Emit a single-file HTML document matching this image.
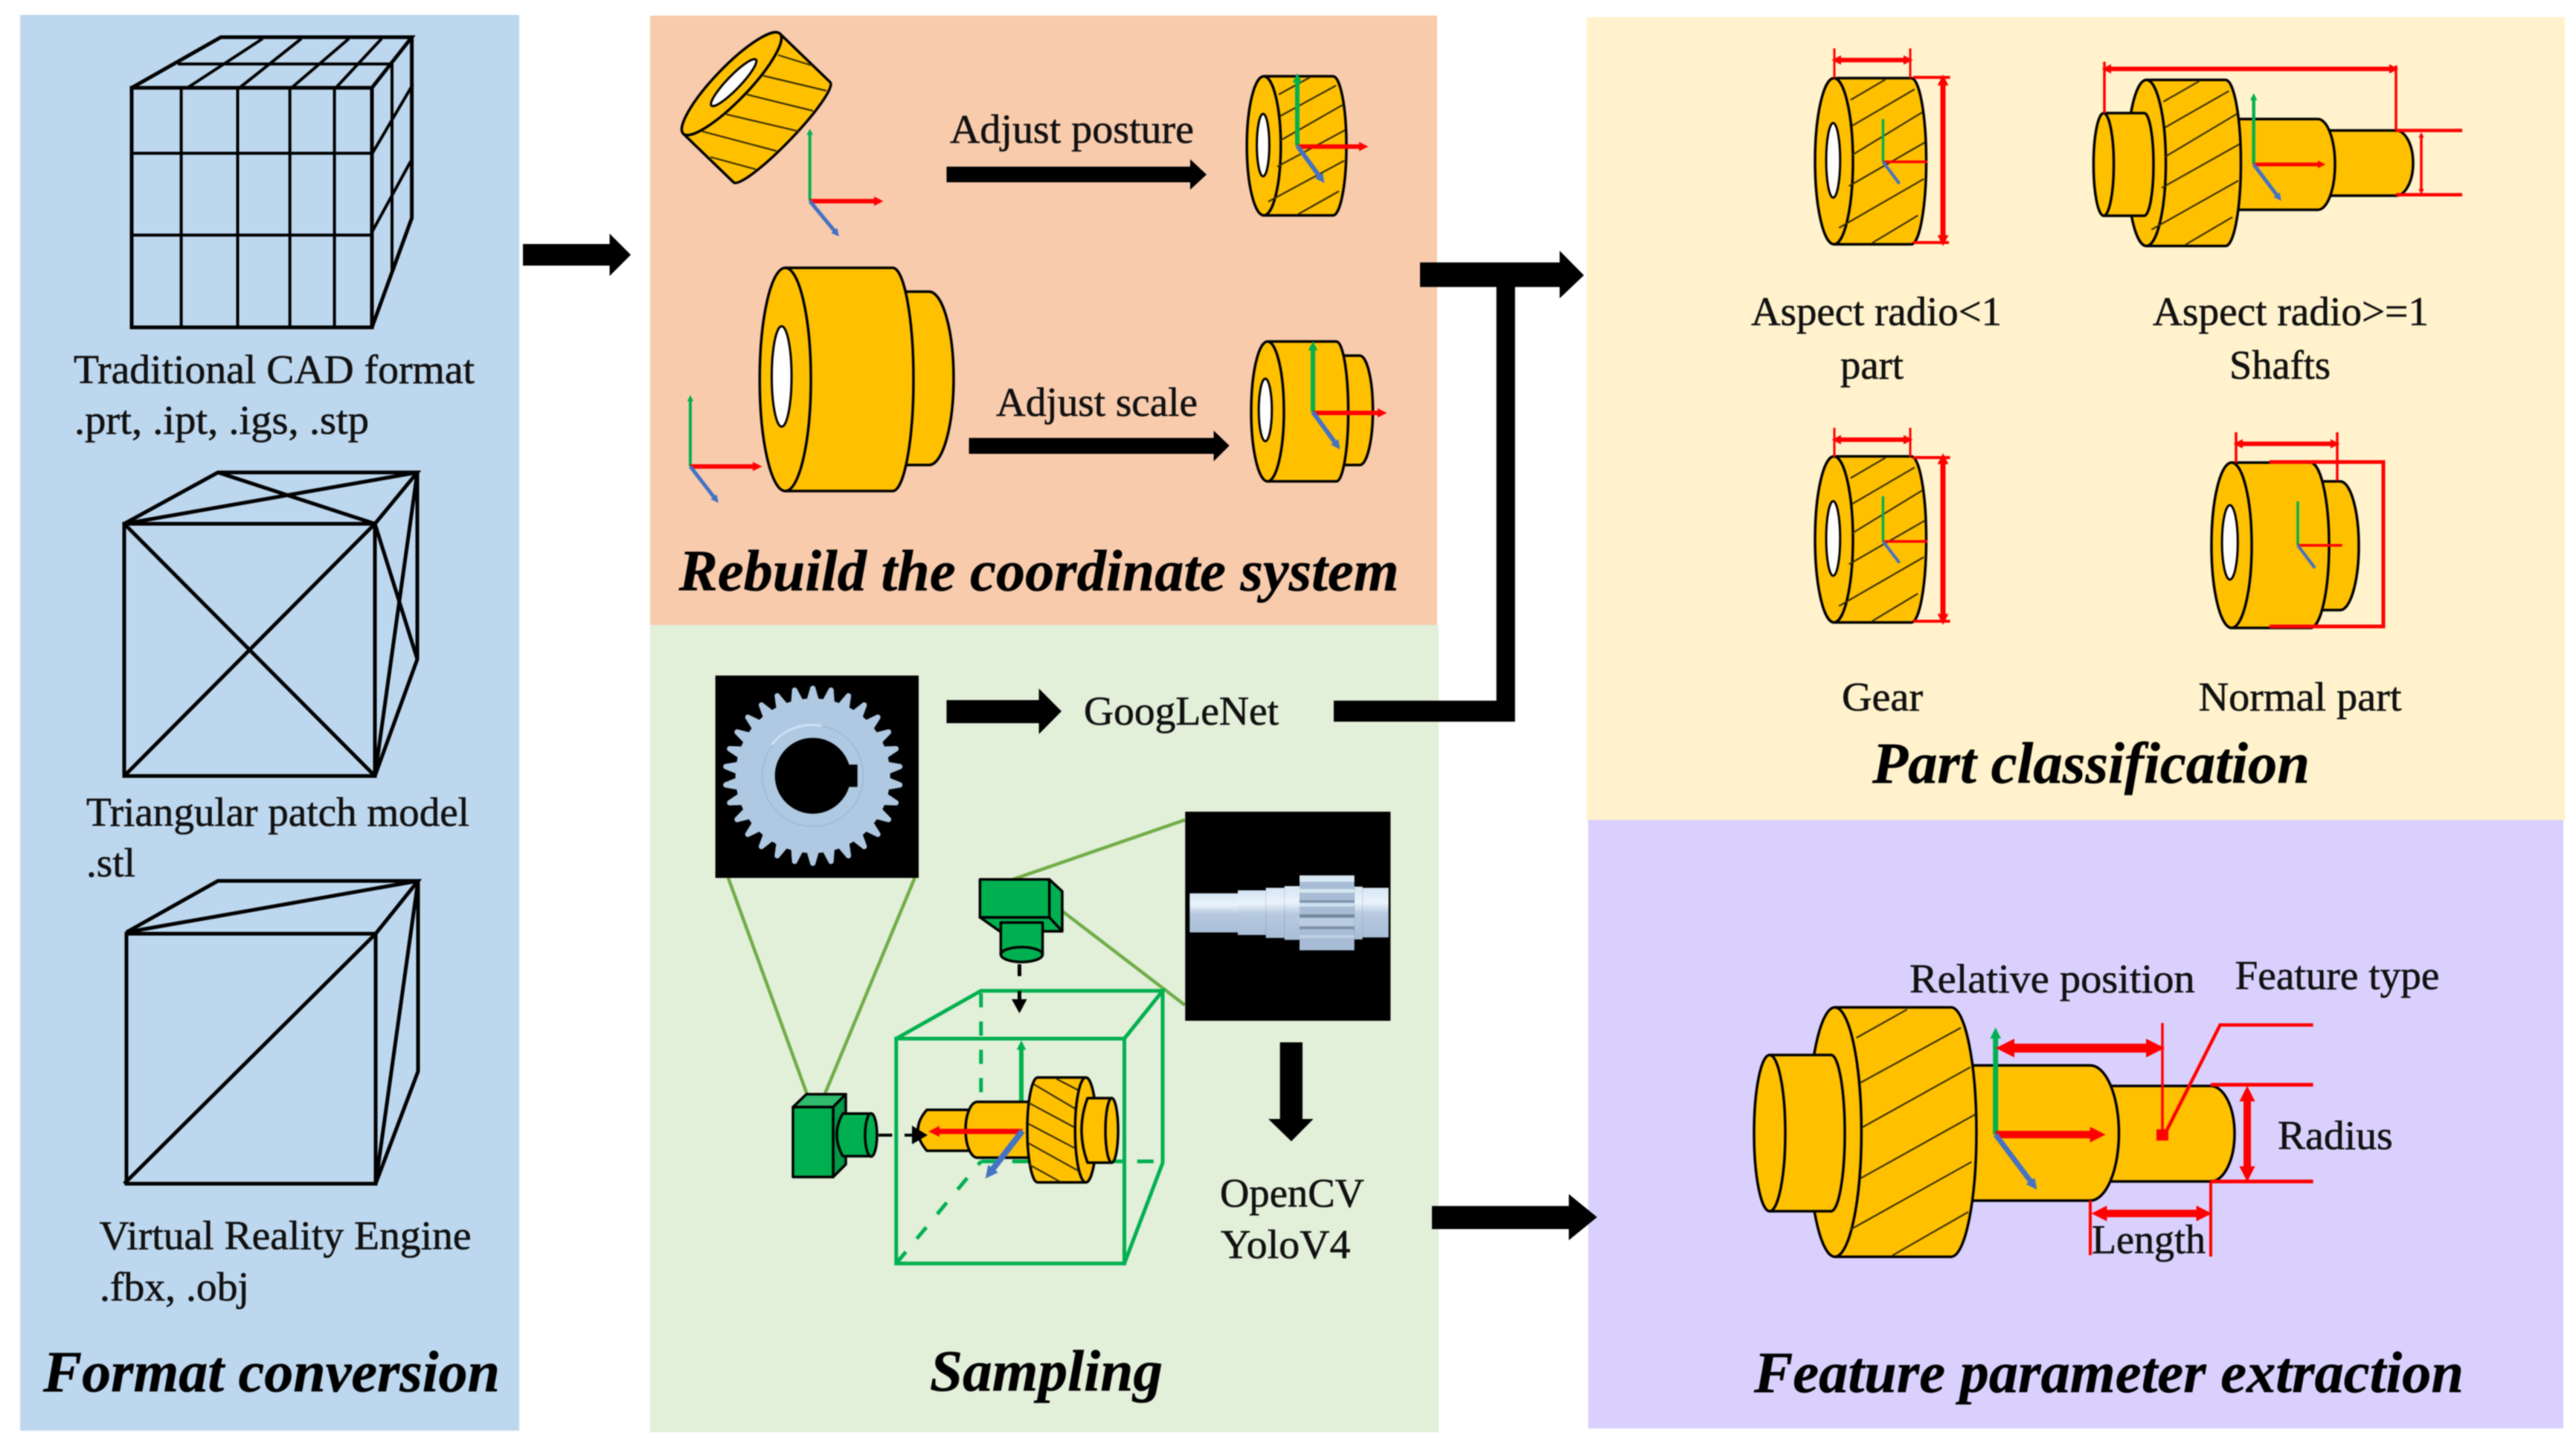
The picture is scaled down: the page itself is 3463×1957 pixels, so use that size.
<!DOCTYPE html>
<html><head><meta charset="utf-8"><title>Pipeline diagram</title>
<style>
html,body{margin:0;padding:0;background:#fff;width:3463px;height:1957px;overflow:hidden}
svg{display:block;filter:blur(.8px)}
text{font-family:"Liberation Serif",serif;font-size:55px;fill:#111;stroke:#111;stroke-width:.6}
text.t{font-weight:bold;font-style:italic;font-size:78px;fill:#000;stroke:#000;stroke-width:.5}
.o{fill:#FFC000;stroke:#000;stroke-width:3.5;vector-effect:non-scaling-stroke;stroke-linejoin:round}
.n{fill:none;stroke:#000;stroke-width:3.5;vector-effect:non-scaling-stroke}
.h{fill:none;stroke:#3a3000;stroke-width:2.2;vector-effect:non-scaling-stroke}
.w{fill:#fff;stroke:#000;stroke-width:3;vector-effect:non-scaling-stroke}
.c{fill:none;stroke:#000;stroke-width:5;stroke-linejoin:miter}
.g{fill:none;stroke:#00B050;stroke-width:5}
.l{stroke:#70AD47;stroke-width:4.5;fill:none}
.cam{fill:#00B050;stroke:#000;stroke-width:3.5;stroke-linejoin:round}
.R{stroke:#f00;fill:none}
</style></head>
<body>
<svg xmlns="http://www.w3.org/2000/svg" width="3463" height="1957" viewBox="0 0 3463 1957">
<defs>
<marker id="mr" markerUnits="strokeWidth" viewBox="0 0 3 3" markerWidth="2.1" markerHeight="2.1" refX="1.2" refY="1.5" orient="auto-start-reverse"><path d="M0,0L3,1.5L0,3Z" fill="#f00"/></marker>
<marker id="mg" markerUnits="strokeWidth" viewBox="0 0 3 3" markerWidth="2.1" markerHeight="2.1" refX="1.2" refY="1.5" orient="auto-start-reverse"><path d="M0,0L3,1.5L0,3Z" fill="#00B050"/></marker>
<marker id="mb" markerUnits="strokeWidth" viewBox="0 0 3 3" markerWidth="2.1" markerHeight="2.1" refX="1.2" refY="1.5" orient="auto-start-reverse"><path d="M0,0L3,1.5L0,3Z" fill="#4472C4"/></marker>
<g id="gb">
<path class="o" d="M0,-93.5L93,-93.5A18,93.5 0 0 1 93,93.5L0,93.5A22.8,93.5 0 0 1 0,-93.5Z"/>
<path class="n" d="M0,-93.5A22.8,93.5 0 0 1 0,93.5"/>
<path class="h" d="M20,-69L62,-92M22,-40L97,-81M22,-7L106,-55M18,28L109,-21M6,75L108,20M46,92L101,61"/>
</g>
<g id="gh"><use href="#gb"/><ellipse class="w" cx="-1" cy="-1" rx="8.4" ry="42"/></g>
<path id="tooth" d="M-8.5,-101L-3.2,-119.5Q0,-123 3.2,-119.5L8.5,-101Z" fill="#AFC9E2"/>
<linearGradient id="sh" x1="0" y1="0" x2="0" y2="1"><stop offset="0" stop-color="#D5E5F3"/><stop offset=".3" stop-color="#EAF3FB"/><stop offset=".52" stop-color="#B6C9DF"/><stop offset="1" stop-color="#A9BED7"/></linearGradient>
</defs>

<rect width="3463" height="1957" fill="#fff"/>
<!-- Panels -->
<rect x="27" y="20" width="671" height="1903" fill="#BDD7EE"/>
<rect x="874" y="21" width="1058" height="819" fill="#F8CBAD"/>
<rect x="874" y="840" width="1060" height="1085" fill="#E2EFD9"/>
<rect x="2133" y="23" width="1315" height="1080" fill="#FFF2CC"/>
<rect x="2135" y="1102" width="1311" height="818" fill="#DAD0FD"/>

<!-- Cube 1 -->
<g class="c">
<path d="M177,118H500V440H177Z"/>
<path d="M177,118L297,50H553.6L500,118M553.6,50V293L500,440"/>
<path d="M243.6,118V440M319.5,118V440M389.7,118V440M449.6,118V440" stroke-width="4"/>
<path d="M177,206H500M177,316H500" stroke-width="4"/>
<path d="M239,86H526M252,118L353,52M322,118L405,52M392,118L469,52M451.5,118L513,52" stroke-width="4"/>
<path d="M527,86V367M500,207L555,113.5M500,312L552,217" stroke-width="4"/>
</g>
<!-- Cube 2 -->
<g class="c">
<path d="M167,704H504V1043H167Z"/>
<path d="M167,704L293,635H561L504,704M561,635V886L504,1043"/>
<path d="M167,704L504,1043M504,704L167,1043M167,704L561,635M293,635L504,704M504,704L561,886M504,1043L561,635"/>
</g>
<!-- Cube 3 -->
<g class="c">
<path d="M170,1255H505V1591H170Z"/>
<path d="M170,1253L293,1184H562L505,1255M562,1184V1440L505,1591"/>
<path d="M170,1253L562,1184M505,1255L167,1591M505,1591L562,1184"/>
</g>
<text x="99" y="515" textLength="539" lengthAdjust="spacingAndGlyphs">Traditional CAD format</text>
<text x="100" y="583" textLength="396" lengthAdjust="spacingAndGlyphs">.prt, .ipt, .igs, .stp</text>
<text x="116" y="1110" textLength="515" lengthAdjust="spacingAndGlyphs">Triangular patch model</text>
<text x="116" y="1178" textLength="66" lengthAdjust="spacingAndGlyphs">.stl</text>
<text x="133.5" y="1679" textLength="500" lengthAdjust="spacingAndGlyphs">Virtual Reality Engine</text>
<text x="134" y="1748" textLength="201" lengthAdjust="spacingAndGlyphs">.fbx, .obj</text>
<text class="t" x="58" y="1870" textLength="614" lengthAdjust="spacingAndGlyphs">Format conversion</text>

<!-- Big arrows -->
<g fill="#000">
<polygon points="703,328 819.5,328 819.5,314 848,342.5 819.5,371 819.5,357 703,357"/>
<polygon points="1272.5,224 1600,224 1600,214 1622,234.6 1600,255 1600,245 1272.5,245"/>
<polygon points="1302.6,588.6 1631.6,588.6 1631.6,578.7 1652.7,599 1631.6,620 1631.6,610 1302.6,610"/>
<polygon points="1272.5,941 1396.6,941 1396.6,925.5 1427,956 1396.6,986.7 1396.6,972 1272.5,972"/>
<polygon points="1909,352.7 2096.7,352.7 2096.7,337 2129.3,370 2096.7,401 2096.7,385.7 2036.7,385.7 2036.7,970 1793,970 1793,941.7 2011.7,941.7 2011.7,385.7 1909,385.7"/>
<polygon points="1925,1621 2109,1621 2109,1605 2147,1636 2109,1667 2109,1652 1925,1652"/>
<polygon points="1720.7,1401 1751,1401 1751,1504 1765.6,1504 1736,1534 1705,1504 1720.7,1504"/>
</g>

<!-- Rebuild panel -->
<g transform="translate(983.5,112.5) rotate(44)">
<path class="o" d="M0,-93.5L94,-93.5A15,93.5 0 0 1 94,93.5L0,93.5A22.8,93.5 0 0 1 0,-93.5Z"/>
<path class="n" d="M0,-93.5A22.8,93.5 0 0 1 0,93.5"/>
<ellipse class="w" cx="1" cy="-3" rx="9" ry="43"/>
</g>
<path class="h" d="M1046,74L1091.5,88M1025,101.5L1111,122M1004,127L1093,149M976,153.6L1074,176.6M944,176.6L1044,203M955,211L1016,227.6"/>
<path d="M1088.7,270V178" stroke="#00B050" stroke-width="4" marker-end="url(#mg)"/>
<path d="M1088.7,270.4H1180" stroke="#f00" stroke-width="6" marker-end="url(#mr)"/>
<path d="M1088.7,270.4L1124,313" stroke="#4472C4" stroke-width="5" marker-end="url(#mb)"/>
<text x="1277" y="192" textLength="328" lengthAdjust="spacingAndGlyphs">Adjust posture</text>
<use href="#gh" transform="translate(1699,196)"/>
<path d="M1744,196V106" stroke="#00B050" stroke-width="6" marker-end="url(#mg)"/>
<path d="M1744,197H1832" stroke="#f00" stroke-width="6" marker-end="url(#mr)"/>
<path d="M1744,196L1776,240" stroke="#4472C4" stroke-width="6" marker-end="url(#mb)"/>

<!-- big part -->
<path class="o" d="M1200,392H1249A33,116.5 0 0 1 1249,625H1200Z"/>
<path class="o" d="M1055.7,360H1200A28,150 0 0 1 1200,660H1055.7A34.4,150 0 0 1 1055.7,360Z"/>
<path class="n" d="M1055.7,360A34.4,150 0 0 1 1055.7,660"/>
<ellipse class="w" cx="1050.8" cy="506" rx="13.3" ry="67.5"/>
<path d="M928,627V536" stroke="#00B050" stroke-width="4" marker-end="url(#mg)"/>
<path d="M928,627H1017" stroke="#f00" stroke-width="6" marker-end="url(#mr)"/>
<path d="M928,627L962,671" stroke="#4472C4" stroke-width="5" marker-end="url(#mb)"/>
<text x="1339" y="559" textLength="271" lengthAdjust="spacingAndGlyphs">Adjust scale</text>
<!-- small part -->
<path class="o" d="M1790,478H1828A17.6,73.5 0 0 1 1828,625H1790Z"/>
<path class="o" d="M1704,459H1796.5A16,94 0 0 1 1796.5,647H1704A22,94 0 0 1 1704,459Z"/>
<path class="n" d="M1704,459A22,94 0 0 1 1704,647"/>
<ellipse class="w" cx="1701" cy="551" rx="8.8" ry="42"/>
<path d="M1765,554V466" stroke="#00B050" stroke-width="6" marker-end="url(#mg)"/>
<path d="M1765,555H1857" stroke="#f00" stroke-width="6" marker-end="url(#mr)"/>
<path d="M1765,554L1797,598" stroke="#4472C4" stroke-width="6" marker-end="url(#mb)"/>
<text class="t" x="912.6" y="793.5" textLength="968" lengthAdjust="spacingAndGlyphs">Rebuild the coordinate system</text>

<!-- Sampling panel -->
<path class="l" d="M979,1180L1090,1484.6M1229.7,1180L1109,1470M1593,1102L1361.6,1182M1593,1351L1428,1224.6"/>
<rect x="961.7" y="908" width="273.3" height="272" fill="#000"/>
<g transform="translate(1092.7,1042.7)">
<circle r="104" fill="#AFC9E2"/>
<use href="#tooth"/><use href="#tooth" transform="rotate(12)"/><use href="#tooth" transform="rotate(24)"/><use href="#tooth" transform="rotate(36)"/><use href="#tooth" transform="rotate(48)"/><use href="#tooth" transform="rotate(60)"/><use href="#tooth" transform="rotate(72)"/><use href="#tooth" transform="rotate(84)"/><use href="#tooth" transform="rotate(96)"/><use href="#tooth" transform="rotate(108)"/><use href="#tooth" transform="rotate(120)"/><use href="#tooth" transform="rotate(132)"/><use href="#tooth" transform="rotate(144)"/><use href="#tooth" transform="rotate(156)"/><use href="#tooth" transform="rotate(168)"/><use href="#tooth" transform="rotate(180)"/><use href="#tooth" transform="rotate(192)"/><use href="#tooth" transform="rotate(204)"/><use href="#tooth" transform="rotate(216)"/><use href="#tooth" transform="rotate(228)"/><use href="#tooth" transform="rotate(240)"/><use href="#tooth" transform="rotate(252)"/><use href="#tooth" transform="rotate(264)"/><use href="#tooth" transform="rotate(276)"/><use href="#tooth" transform="rotate(288)"/><use href="#tooth" transform="rotate(300)"/><use href="#tooth" transform="rotate(312)"/><use href="#tooth" transform="rotate(324)"/><use href="#tooth" transform="rotate(336)"/><use href="#tooth" transform="rotate(348)"/>
<circle r="68" fill="none" stroke="#9FB8D2" stroke-width="1.5"/>
<path d="M-55,-42A68,68 0 0 1 12,-67" fill="none" stroke="#CDE2F5" stroke-width="3"/>
<circle r="51" fill="#000"/>
<rect x="40" y="-15" width="20" height="30" fill="#000"/>
</g>
<text x="1457" y="974" textLength="262" lengthAdjust="spacingAndGlyphs">GoogLeNet</text>

<rect x="1593.3" y="1091" width="276" height="281" fill="#000"/>
<rect x="1599.3" y="1200.7" width="64.7" height="52.6" fill="url(#sh)"/>
<rect x="1664" y="1196.7" width="37.7" height="60" fill="url(#sh)"/>
<rect x="1701.7" y="1193.3" width="25" height="67.4" fill="url(#sh)"/>
<rect x="1726.7" y="1191" width="20.3" height="72.3" fill="url(#sh)"/>
<rect x="1820.7" y="1191.7" width="11" height="71" fill="url(#sh)"/>
<rect x="1831.7" y="1193.3" width="35" height="66.7" fill="url(#sh)"/>
<rect x="1747" y="1176.7" width="73.7" height="100.6" fill="#A8BDD5"/>
<g>
<rect x="1747" y="1176.7" width="73.7" height="8.5" fill="#D8E8F3"/>
<rect x="1747" y="1195" width="73.7" height="5" fill="#D6E6F0"/>
<rect x="1747" y="1210" width="73.7" height="3.5" fill="#7F95AE"/>
<rect x="1747" y="1213.5" width="73.7" height="5" fill="#CFE0EE"/>
<rect x="1747" y="1229" width="73.7" height="4.5" fill="#74889E"/>
<rect x="1747" y="1233.5" width="73.7" height="11.5" fill="#B9CCE0"/>
<rect x="1747" y="1245" width="73.7" height="4" fill="#7F92A8"/>
<rect x="1747" y="1256.7" width="73.7" height="4" fill="#BED0E2"/>
</g>

<!-- green cube -->
<g class="g">
<path d="M1318.8,1335V1470" stroke-dasharray="19 19"/>
<path d="M1205,1698L1318.8,1561" stroke-dasharray="20 23"/>
<path d="M1318.8,1561H1563" stroke-dasharray="22 20"/>
<path d="M1204.8,1396H1511.5V1698.3H1204.8Z"/>
<path d="M1204.8,1396L1318.8,1331.7H1563L1511.5,1396M1563,1331.7V1563L1511.5,1698.3"/>
</g>
<path d="M1373,1517V1406" stroke="#00B050" stroke-width="6" marker-end="url(#mg)"/>
<!-- part in cube -->
<path class="o" d="M1303.5,1491.7L1246,1491.7Q1222,1519 1246,1546.7L1303.5,1546.7Z"/>
<path class="o" d="M1383,1481L1314,1481A16,37.5 0 0 0 1314,1556L1383,1556Z"/>
<path class="o" d="M1395,1448.3L1459.7,1448.3A14.4,70.5 0 0 1 1459.7,1589.3L1395,1589.3A14,70.5 0 0 1 1395,1448.3Z"/>
<ellipse class="o" cx="1459.7" cy="1518.8" rx="14.4" ry="70.5"/>
<path class="h" d="M1420,1450L1449,1465M1389.7,1457.3L1445,1490M1383,1482.3L1443.8,1515M1383,1510.7L1445,1543.3M1383,1536.7L1449,1573.3M1383,1565L1425,1588.3"/>
<path class="o" d="M1462,1476H1494.6V1562.7H1462Q1446,1519 1462,1476Z"/>
<ellipse class="o" cx="1494.6" cy="1519.3" rx="8.5" ry="43.3"/>
<path d="M1374.5,1520.7H1257" stroke="#f00" stroke-width="7" marker-end="url(#mr)"/>
<path d="M1374.5,1520L1331,1576" stroke="#4472C4" stroke-width="8" marker-end="url(#mb)"/>
<!-- top camera -->
<path class="cam" d="M1410.7,1182L1428,1198V1251.7H1344L1317.4,1233Z"/>
<path class="n" d="M1410.7,1233L1428,1251.7M1317.4,1233H1410.7"/>
<rect class="cam" x="1317.4" y="1182" width="93.3" height="51"/>
<path class="cam" d="M1345.4,1240H1401.6V1283H1345.4Z"/>
<ellipse class="cam" cx="1373.5" cy="1283" rx="28" ry="10"/>
<path d="M1370.5,1296V1312M1370.5,1331.7V1345" stroke="#000" stroke-width="5" fill="none"/>
<polygon points="1360,1343 1380.6,1343 1370.5,1362" fill="#000"/>
<!-- left camera -->
<path class="cam" d="M1066,1488L1084,1470.7H1137L1120,1488Z" style="fill:#30BB6E"/>
<path class="cam" d="M1120,1488L1137,1470.7V1565L1120,1582Z" style="fill:#009A49"/>
<rect class="cam" x="1066" y="1488" width="54" height="94"/>
<path class="cam" d="M1133,1496.7H1171V1554H1133Q1117,1525 1133,1496.7Z"/>
<ellipse class="cam" cx="1171" cy="1525.5" rx="8" ry="29"/>
<path d="M1181,1525.7H1199.4M1216,1525.7H1235" stroke="#000" stroke-width="4"/>
<polygon points="1226,1513 1247,1525.7 1226,1538" fill="#000"/>

<text x="1640" y="1622" textLength="194" lengthAdjust="spacingAndGlyphs">OpenCV</text>
<text x="1641" y="1691" textLength="174.5" lengthAdjust="spacingAndGlyphs">YoloV4</text>
<text class="t" x="1250" y="1869" textLength="313" lengthAdjust="spacingAndGlyphs">Sampling</text>

<!-- Part classification: gear A -->
<use href="#gh" transform="translate(2465.5,216.7) scale(1.117,1.194)"/>
<path d="M2531.4,217.5V160" stroke="#00B050" stroke-width="3.5"/>
<path d="M2531.4,217.5H2591" stroke="#f00" stroke-width="3.5"/>
<path d="M2531.4,217.5L2553.5,247" stroke="#4472C4" stroke-width="4"/>
<g class="R">
<path d="M2470,80.7H2564" stroke-width="6" marker-start="url(#mr)" marker-end="url(#mr)"/>
<path d="M2466,65V105M2568,65V105" stroke-width="3"/>
<path d="M2612,109V322" stroke-width="7" marker-start="url(#mr)" marker-end="url(#mr)"/>
<path d="M2572,104H2621.5M2572,326H2620" stroke-width="4"/>
</g>
<!-- Gear C -->
<use href="#gh" transform="translate(2465.5,725) scale(1.117,1.194)"/>
<path d="M2531.4,727.7V667" stroke="#00B050" stroke-width="3.5"/>
<path d="M2531.4,727.7H2591" stroke="#f00" stroke-width="3.5"/>
<path d="M2531.4,727.7L2553.5,756.5" stroke="#4472C4" stroke-width="4"/>
<g class="R">
<path d="M2470,591H2564" stroke-width="6" marker-start="url(#mr)" marker-end="url(#mr)"/>
<path d="M2466,575V614M2568,575V614" stroke-width="3"/>
<path d="M2612,618V831" stroke-width="7" marker-start="url(#mr)" marker-end="url(#mr)"/>
<path d="M2572,615H2621.5M2572,835H2621.5" stroke-width="4"/>
</g>
<!-- Shaft B -->
<path class="o" d="M3100,175.4H3221A23,43.8 0 0 1 3221,263H3100Z"/>
<path class="o" d="M2990,160H3116A23,61 0 0 1 3116,282H2990Z"/>
<use href="#gb" transform="translate(2885.5,219) scale(1.144,1.194)"/>
<path class="o" d="M2828,152H2882.6A12.4,69 0 0 1 2882.6,290H2828A13.6,69 0 0 1 2828,152Z"/>
<path class="n" d="M2828,152A13.6,69 0 0 1 2828,290"/>
<path d="M3029.7,221V131" stroke="#00B050" stroke-width="4.5" marker-end="url(#mg)"/>
<path d="M3029.7,221H3120" stroke="#f00" stroke-width="5" marker-end="url(#mr)"/>
<path d="M3029.7,221L3063,265" stroke="#4472C4" stroke-width="5" marker-end="url(#mb)"/>
<g class="R">
<path d="M2833,92.6H3217" stroke-width="6" marker-start="url(#mr)" marker-end="url(#mr)"/>
<path d="M2829,83V152M3221,88V175" stroke-width="3.5"/>
<path d="M3221,175.4H3310M3221,261.7H3310" stroke-width="4.5"/>
<path d="M3255,182V257" stroke-width="3.5" marker-start="url(#mr)" marker-end="url(#mr)"/>
</g>
<!-- Normal part D -->
<path class="o" d="M3120,647H3146A25,86.5 0 0 1 3146,820H3120Z"/>
<path class="o" d="M3000,621.7H3106A25,111 0 0 1 3106,844H3000A27,111 0 0 1 3000,621.7Z"/>
<path class="n" d="M3000,621.7A27,111 0 0 1 3000,844"/>
<ellipse class="w" cx="2997.7" cy="729" rx="10.6" ry="50"/>
<path d="M3089,733V674" stroke="#00B050" stroke-width="3.5"/>
<path d="M3089,733H3148.7" stroke="#f00" stroke-width="3.5"/>
<path d="M3089,733L3112,763.5" stroke="#4472C4" stroke-width="4"/>
<g class="R">
<path d="M3010,596.5H3138" stroke-width="6" marker-start="url(#mr)" marker-end="url(#mr)"/>
<path d="M3006,581V622M3142,581V646" stroke-width="3.5"/>
<path d="M3051,621H3204V842H3051" stroke-width="5"/>
</g>
<text x="2354" y="437" textLength="337" lengthAdjust="spacingAndGlyphs">Aspect radio&lt;1</text>
<text x="2474" y="509" textLength="85" lengthAdjust="spacingAndGlyphs">part</text>
<text x="2894" y="437" textLength="371" lengthAdjust="spacingAndGlyphs">Aspect radio&gt;=1</text>
<text x="2997" y="509" textLength="136" lengthAdjust="spacingAndGlyphs">Shafts</text>
<text x="2476" y="955" textLength="109" lengthAdjust="spacingAndGlyphs">Gear</text>
<text x="2955.5" y="955" textLength="273" lengthAdjust="spacingAndGlyphs">Normal part</text>
<text class="t" x="2517" y="1052" textLength="588" lengthAdjust="spacingAndGlyphs">Part classification</text>

<!-- Feature parameter -->
<path class="o" d="M2820,1459.6H2972A32,64.2 0 0 1 2972,1588H2820Z"/>
<path class="o" d="M2640,1432H2810A38.5,90.8 0 0 1 2810,1613.7H2640Z"/>
<path class="o" d="M2466.7,1354H2623A34,167.6 0 0 1 2623,1689.2H2466.7A35.7,167.6 0 0 1 2466.7,1354Z"/>
<path class="n" d="M2466.7,1354A35.7,167.6 0 0 1 2466.7,1689.2"/>
<path class="h" d="M2495.6,1395L2563.7,1356.8M2501.6,1455L2636,1381.4M2504,1515L2648.7,1434.4M2501.6,1583.6L2655.5,1497.8M2487,1653L2650.4,1561.7M2544,1687.4L2646,1629"/>
<path class="o" d="M2379,1418H2461.6A18.4,105 0 0 1 2461.6,1628H2379A21,105 0 0 1 2379,1418Z"/>
<path class="n" d="M2379,1418A21,105 0 0 1 2379,1628"/>
<path d="M2682.7,1525V1390" stroke="#00B050" stroke-width="7" marker-end="url(#mg)"/>
<path d="M2682.7,1525H2818" stroke="#f00" stroke-width="10" marker-end="url(#mr)"/>
<path d="M2682.7,1525L2733,1592" stroke="#4472C4" stroke-width="7" marker-end="url(#mb)"/>
<g class="R">
<path d="M2698,1408.7H2895" stroke-width="12" marker-start="url(#mr)" marker-end="url(#mr)"/>
<path d="M2907,1375V1526" stroke-width="3.5"/>
<path d="M2912,1521L2984.6,1377.6H3109.6" stroke-width="4.5"/>
<path d="M2972,1458H3109.6M2972,1588H3109.6" stroke-width="5"/>
<path d="M3021,1472V1576" stroke-width="10" marker-start="url(#mr)" marker-end="url(#mr)"/>
<path d="M2824,1631H2961" stroke-width="10" marker-start="url(#mr)" marker-end="url(#mr)"/>
<path d="M2810,1613.7V1687M2972,1588V1689" stroke-width="4"/>
</g>
<rect x="2899" y="1518" width="16" height="15" fill="#f00"/>
<text x="2567" y="1334" textLength="383.6" lengthAdjust="spacingAndGlyphs">Relative position</text>
<text x="3004.5" y="1329.5" textLength="275" lengthAdjust="spacingAndGlyphs">Feature type</text>
<text x="3062" y="1544.5" textLength="154.7" lengthAdjust="spacingAndGlyphs">Radius</text>
<text x="2812" y="1684.7" textLength="153" lengthAdjust="spacingAndGlyphs">Length</text>
<text class="t" x="2358" y="1871" textLength="954" lengthAdjust="spacingAndGlyphs">Feature parameter extraction</text>
</svg>
</body></html>
